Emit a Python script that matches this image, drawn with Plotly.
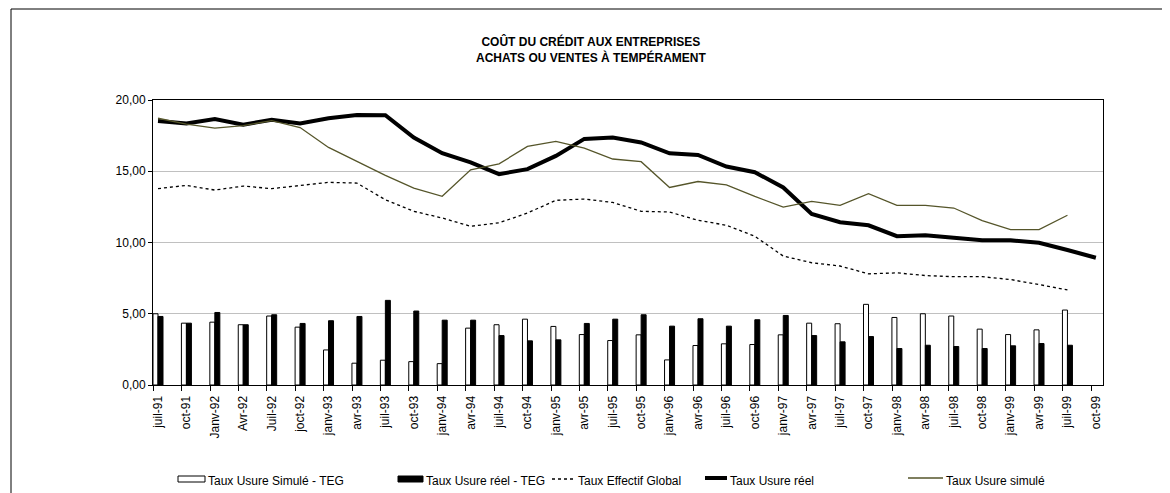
import plotly.graph_objects as go

categories = ["juil-91", "oct-91", "Janv-92", "Avr-92", "Juil-92", "joct-92", "janv-93", "avr-93",
              "juil-93", "oct-93", "janv-94", "avr-94", "juil-94", "oct-94", "janv-95", "avr-95",
              "juil-95", "oct-95", "janv-96", "avr-96", "juil-96", "oct-96", "janv-97", "avr-97",
              "juil-97", "oct-97", "janv-98", "avr-98", "juil-98", "oct-98", "janv-99", "avr-99",
              "juil-99", "oct-99"]

usure_reel = [18.53, 18.35, 18.67, 18.27, 18.62, 18.35, 18.72, 18.95, 18.93, 17.37, 16.27, 15.62,
              14.80, 15.15, 16.08, 17.27, 17.37, 17.02, 16.26, 16.14, 15.33, 14.93, 13.86, 12.00,
              11.42, 11.21, 10.44, 10.51, 10.33, 10.16, 10.16, 9.98, 9.47, 8.93]

usure_simule = [18.72, 18.30, 18.02, 18.20, 18.55, 18.07, 16.67, 15.69, 14.71, 13.82, 13.24, 15.10,
                15.52, 16.74, 17.09, 16.62, 15.86, 15.67, 13.86, 14.28, 14.05, 13.23, 12.49, 12.88,
                12.60, 13.42, 12.60, 12.60, 12.42, 11.53, 10.91, 10.91, 11.91, None]

teg = [13.78, 14.01, 13.68, 13.96, 13.78, 14.01, 14.22, 14.17, 13.00, 12.19, 11.72, 11.14,
       11.38, 12.07, 12.96, 13.05, 12.81, 12.19, 12.14, 11.56, 11.21, 10.44, 9.05, 8.58,
       8.35, 7.80, 7.87, 7.68, 7.60, 7.60, 7.40, 7.05, 6.67, None]

simule_moins_teg = [5.00, 4.34, 4.41, 4.23, 4.84, 4.06, 2.46, 1.53, 1.74, 1.64, 1.50, 3.99,
                    4.23, 4.62, 4.11, 3.54, 3.12, 3.52, 1.76, 2.77, 2.89, 2.84, 3.52, 4.34,
                    4.30, 5.66, 4.74, 5.00, 4.84, 3.92, 3.54, 3.87, 5.26, None]

reel_moins_teg = [4.81, 4.34, 5.09, 4.23, 4.93, 4.32, 4.51, 4.81, 5.94, 5.19, 4.55, 4.55,
                  3.47, 3.10, 3.17, 4.32, 4.62, 4.93, 4.13, 4.65, 4.13, 4.58, 4.88, 3.47,
                  3.03, 3.40, 2.56, 2.79, 2.70, 2.56, 2.75, 2.91, 2.79, None]

y_ticks = [0, 5, 10, 15, 20]
y_tick_labels = ["0,00", "5,00", "10,00", "15,00", "20,00"]

legend_labels = ["Taux Usure Simulé - TEG", "Taux Usure réel - TEG", "Taux Effectif Global",
                 "Taux Usure réel", "Taux Usure simulé"]

OLIVE = "#55552a"
FONT = "Liberation Sans, Arial, sans-serif"

OFF = 8  # default page body margin
W, H = 1170 - OFF, 493 - OFF
# plot area in page pixels
PL, PR, PT, PB = 153, 1103, 100, 385

def px_x(x):
    return (x - PL) / (PR - PL)

def px_y(y):
    return (PB - y) / (PB - PT)

xs = list(range(len(categories)))
tick_shift = 0.17  # tick marks sit at the left edge of each bar pair

fig = go.Figure()
fig.add_trace(go.Bar(x=xs, y=simule_moins_teg, name=legend_labels[0],
                     marker=dict(color="white", line=dict(color="black", width=1))))
fig.add_trace(go.Bar(x=xs, y=reel_moins_teg, name=legend_labels[1],
                     marker=dict(color="black", line=dict(color="black", width=1))))
fig.add_trace(go.Scatter(x=xs, y=teg, name=legend_labels[2], mode="lines",
                         line=dict(color="black", width=1.3, dash="dot")))
fig.add_trace(go.Scatter(x=xs, y=usure_reel, name=legend_labels[3], mode="lines",
                         line=dict(color="black", width=4)))
fig.add_trace(go.Scatter(x=xs, y=usure_simule, name=legend_labels[4], mode="lines",
                         line=dict(color=OLIVE, width=1.3)))
# empty trace so the tick-mark axis is drawn
fig.add_trace(go.Scatter(x=[], y=[], xaxis="x2", yaxis="y", showlegend=False, hoverinfo="skip"))

step = 28.42
first = 158
x_lo = (PL - first) / step
x_hi = (PR - first) / step

shapes = []
annotations = []

# outer frame
shapes.append(dict(type="rect", xref="paper", yref="paper",
                   x0=px_x(11), x1=px_x(1190), y0=px_y(520), y1=px_y(9),
                   line=dict(color="black", width=1), fillcolor="rgba(0,0,0,0)", layer="below"))

# title
annotations.append(dict(xref="paper", yref="paper", x=px_x(591), y=px_y(49),
                        text="<b>COÛT DU CRÉDIT AUX ENTREPRISES<br>ACHATS OU VENTES À TEMPÉRAMENT</b>",
                        showarrow=False, xanchor="center", yanchor="middle",
                        font=dict(family=FONT, size=12, color="black")))

# custom legend
ly = 479
leg = [(178, 205, "whitebox"), (398, 423, "blackbox"), (552, 575, "dot"), (705, 727, "thick"), (908, 943, "olive")]
for (x0, x1, kind), lab in zip(leg, legend_labels):
    if kind in ("whitebox", "blackbox"):
        shapes.append(dict(type="rect", xref="paper", yref="paper",
                           x0=px_x(x0), x1=px_x(x1), y0=px_y(ly + 3), y1=px_y(ly - 3),
                           line=dict(color="black", width=1),
                           fillcolor="white" if kind == "whitebox" else "black"))
    elif kind == "dot":
        shapes.append(dict(type="line", xref="paper", yref="paper",
                           x0=px_x(x0), x1=px_x(x1), y0=px_y(ly), y1=px_y(ly),
                           line=dict(color="black", width=1.3, dash="dot")))
    elif kind == "thick":
        shapes.append(dict(type="line", xref="paper", yref="paper",
                           x0=px_x(x0), x1=px_x(x1), y0=px_y(ly - 1), y1=px_y(ly - 1),
                           line=dict(color="black", width=4)))
    else:
        shapes.append(dict(type="line", xref="paper", yref="paper",
                           x0=px_x(x0), x1=px_x(x1), y0=px_y(ly - 1), y1=px_y(ly - 1),
                           line=dict(color=OLIVE, width=1.5)))
    annotations.append(dict(xref="paper", yref="paper", x=px_x(x1 + 1), y=px_y(ly + 2),
                            text=lab, showarrow=False, xanchor="left", yanchor="middle",
                            font=dict(family=FONT, size=12, color="black")))

fig.update_layout(
    width=W, height=H,
    margin=dict(l=PL - OFF, r=W - (PR - OFF), t=PT - OFF, b=H - (PB - OFF), pad=0),
    paper_bgcolor="white", plot_bgcolor="white",
    barmode="group", bargap=0.648, bargroupgap=0,
    showlegend=False,
    font=dict(family=FONT, size=12, color="black"),
    shapes=shapes, annotations=annotations,
    xaxis2=dict(overlaying="x", anchor="y", side="bottom", range=[x_lo, x_hi],
                tickmode="array", tickvals=[i - tick_shift for i in xs],
                showticklabels=False, ticks="outside", ticklen=5, tickcolor="black",
                showline=False, showgrid=False, zeroline=False),
)
fig.update_xaxes(selector=dict(overlaying=None))
fig.layout.xaxis.update(range=[x_lo, x_hi], tickmode="array", tickvals=xs, ticktext=categories,
                        tickangle=-90, ticks="outside", ticklen=5, tickcolor="rgba(0,0,0,0)",
                        showline=True, linecolor="black", linewidth=1, mirror=True,
                        showgrid=False, zeroline=False,
                        tickfont=dict(family=FONT, size=12, color="black"))
fig.update_yaxes(range=[0, 20], tickmode="array", tickvals=y_ticks, ticktext=y_tick_labels,
                 ticks="outside", ticklen=4, tickcolor="black",
                 showline=True, linecolor="black", linewidth=1, mirror=True,
                 showgrid=True, gridcolor="#c0c0c0", gridwidth=1, zeroline=False,
                 tickfont=dict(family=FONT, size=12, color="black"))

fig.write_html("out.html")
